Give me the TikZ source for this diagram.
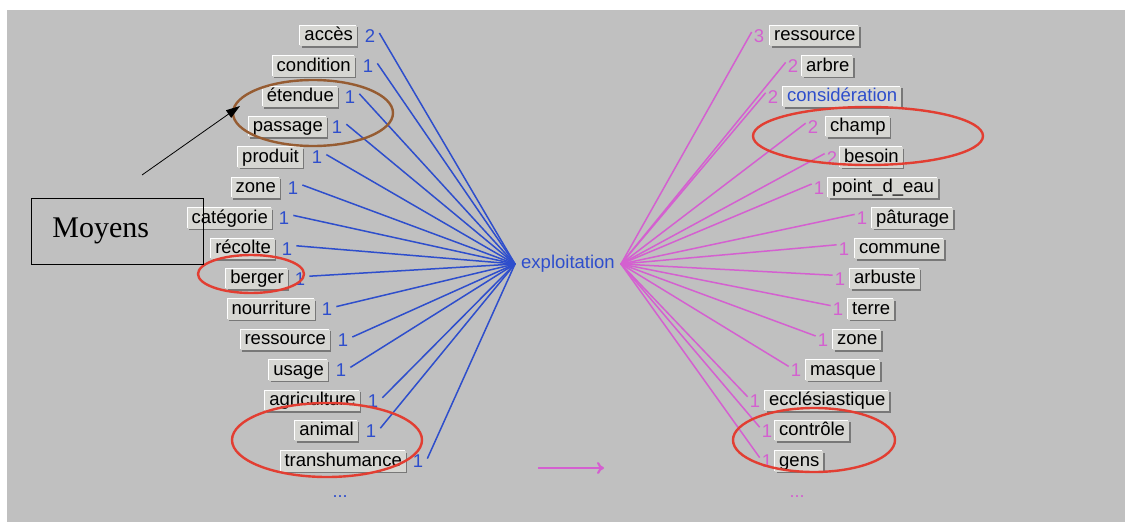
\documentclass[tikz,border=0pt]{standalone}
\usepackage{fontspec}
\newfontfamily\lab{Liberation Sans}
\newfontfamily\serifm{Liberation Serif}
\usetikzlibrary{shapes.geometric,arrows.meta}
\definecolor{bgc}{RGB}{192,192,192}
\definecolor{boxc}{RGB}{214,214,210}
\definecolor{shadc}{RGB}{120,120,120}
\definecolor{bluec}{RGB}{46,78,204}
\definecolor{pinkc}{RGB}{212,96,208}
\definecolor{redc}{RGB}{226,62,50}
\definecolor{brownc}{RGB}{150,92,50}
\tikzset{
  lbl/.style={font=\lab\fontsize{18.5}{20}\selectfont, fill=boxc, inner xsep=4pt, inner ysep=1.5pt,
    text height=13.5pt, text depth=4pt,
    preaction={fill=shadc, transform canvas={shift={(1.5pt,-1.5pt)}}},
    preaction={fill=white, transform canvas={shift={(-1pt,1pt)}}}},
  num/.style={font=\lab\fontsize{18.5}{20}\selectfont, inner sep=1pt},
  bline/.style={draw=bluec, line width=1.5pt},
  pline/.style={draw=pinkc, line width=1.5pt},
  ring/.style={ellipse, draw=redc, line width=2.4pt, inner sep=0pt}
}
\begin{document}
\begin{tikzpicture}[x=1pt,y=-1pt]
\useasboundingbox (0,0) rectangle (1125,522);
\fill[white] (0,0) rectangle (1125,522);
\fill[bgc] (7,10) rectangle (1125,522);

% hub
\node[font=\lab\fontsize{18.5}{20}\selectfont, text=bluec, inner xsep=6pt, inner ysep=2pt] (ex) at (568,264) {exploitation};

% left side
\foreach \t/\rx/\dx/\c [count=\i] in {
  accès/357/370/2, condition/355/368/1, étendue/338/350/1, passage/327/337/1,
  produit/303/317/1, zone/280/293/1, catégorie/272/284/1, récolte/275/287/1,
  berger/288/300/1, nourriture/315/327/1, ressource/330/343/1, usage/328/341/1,
  agriculture/360/373/1, animal/358/371/1, transhumance/406/418/1}{
  \node[lbl, anchor=east] (l\i) at (\rx,{36+30.4*(\i-1)}) {\t};
  \node[num, text=bluec] (ln\i) at (\dx,{36+30.4*(\i-1)}) {\c};
  \draw[bline] (ex.west) -- ([xshift=3pt,yshift=3pt]ln\i.east);
}

% right side
\foreach \t/\dx/\bx/\c/\tc [count=\i] in {
  ressource/759/770/3/black, arbre/793/802/2/black, considération/773/783/2/bluec,
  champ/813/826/2/black, besoin/832/840/2/black, point\_d\_eau/819/828/1/black,
  pâturage/862/872/1/black, commune/844/855/1/black, arbuste/840/850/1/black,
  terre/838/848/1/black, zone/823/833/1/black, masque/796/806/1/black,
  ecclésiastique/755/765/1/black, contrôle/767/775/1/black, gens/767/775/1/black}{
  \node[lbl, anchor=west, text=\tc] (r\i) at (\bx,{36+30.4*(\i-1)}) {\t};
  \node[num, text=pinkc] (rn\i) at (\dx,{36+30.4*(\i-1)}) {\c};
  \draw[pline] (ex.east) -- ([xshift=-1pt,yshift=4pt]rn\i.west);
}

% dots
\node[font=\lab\fontsize{18}{20}\selectfont, text=bluec] (ldots) at (340,497) {...};
\node[font=\lab\fontsize{18}{20}\selectfont, text=pinkc] (rdots) at (797,497) {...};

% small arrow
\coordinate (pa) at (538,468);
\coordinate (pb) at (604,468);
\draw[draw=pinkc, line width=2.2pt, -{To[length=7pt,width=12pt]}] (pa) -- (pb);

% ellipses
\node[ellipse, draw=brownc, line width=2.4pt, inner sep=0pt, minimum width=160pt, minimum height=66pt] (e1) at (313,113) {};
\node[ring, minimum width=106pt, minimum height=38pt] (e2) at (251,274) {};
\node[ring, minimum width=190pt, minimum height=74pt] (e3) at (327,440) {};
\node[ring, minimum width=230pt, minimum height=58pt] (e4) at (868,136) {};
\node[ring, minimum width=162pt, minimum height=64pt] (e5) at (814,440) {};

% Moyens box and arrow
\node[draw=black, line width=0.8pt, anchor=north west, minimum height=66pt, text width=130pt, align=left,
  inner xsep=21pt, inner ysep=0pt, font=\serifm\fontsize{30}{32}\selectfont] (moy) at (31,198) {Moyens};
\coordinate (as) at (142,175);
\coordinate (ae) at (240,106);
\draw[line width=0.8pt, -{Triangle[length=14pt,width=9pt]}] (as) -- (ae);
\end{tikzpicture}
\end{document}
